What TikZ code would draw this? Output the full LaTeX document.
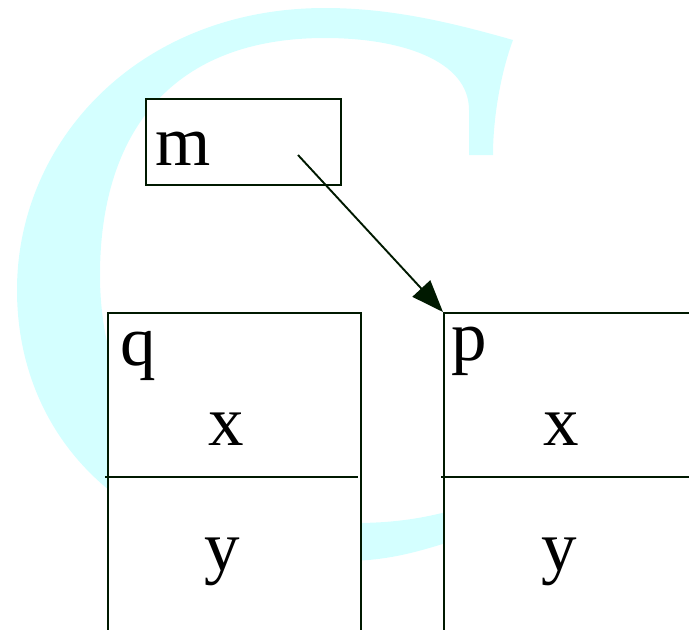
\documentclass[tikz,border=0pt]{standalone}
\usepackage{fontspec}
\setmainfont{Liberation Serif}
\usetikzlibrary{arrows.meta}
\definecolor{linecol}{RGB}{0,25,0}
\definecolor{ccol}{RGB}{212,255,255}
\begin{document}
\begin{tikzpicture}[x=1pt,y=-1pt,
  boxst/.style={draw=linecol, line width=1.9pt, fill=white, inner sep=0pt, anchor=north west},
  lab/.style={inner sep=0pt, text=black, font=\fontsize{71}{80}\selectfont},
  conn/.style={draw=linecol, line width=1.9pt, -{Triangle[length=32pt,width=24pt]}}]
\useasboundingbox (0,0) rectangle (689,630);
\clip (0,0) rectangle (689,630);
% background letter C
\fill[ccol] (493,155) .. controls (493,120) and (500,75) .. (513,40)
 .. controls (450,22) and (390,8) .. (325,8)
 .. controls (140,8) and (17,140) .. (17,290)
 .. controls (17,440) and (130,565) .. (350,561)
 .. controls (390,560) and (420,552) .. (470,535)
 -- (470,505)
 .. controls (430,518) and (395,523) .. (355,523)
 .. controls (190,523) and (100,420) .. (100,275)
 .. controls (100,140) and (165,38) .. (325,38)
 .. controls (400,38) and (469,60) .. (469,110)
 -- (469,155) -- cycle;
% boxes
\node[boxst, minimum width=195pt, minimum height=86pt] (m) at (145,98) {};
\node[boxst, minimum width=253pt, minimum height=420pt] (q) at (107,312) {};
\node[boxst, minimum width=300pt, minimum height=420pt] (p) at (443,312) {};
\draw[linecol, line width=1.9pt] (105,477) -- (358,477);
\draw[linecol, line width=1.9pt] (441,477) -- (700,477);
% labels
\node[lab, anchor=base west] (mlab) at (155,165) {m};
\node[lab, anchor=base west] (qlab) at (120,365) {q};
\node[lab, anchor=base west] (plab) at (451,360) {p};
\node[lab, anchor=base] (qx) at (226.5,445) {x};
\node[lab, anchor=base] (px) at (561.5,445) {x};
\node[lab, anchor=base] (qy) at (222,570) {y};
\node[lab, anchor=base] (py) at (559,570) {y};
% connector
\coordinate (mstart) at (298,155);
\draw[conn] (mstart) -- (p.north west);
\end{tikzpicture}
\end{document}
